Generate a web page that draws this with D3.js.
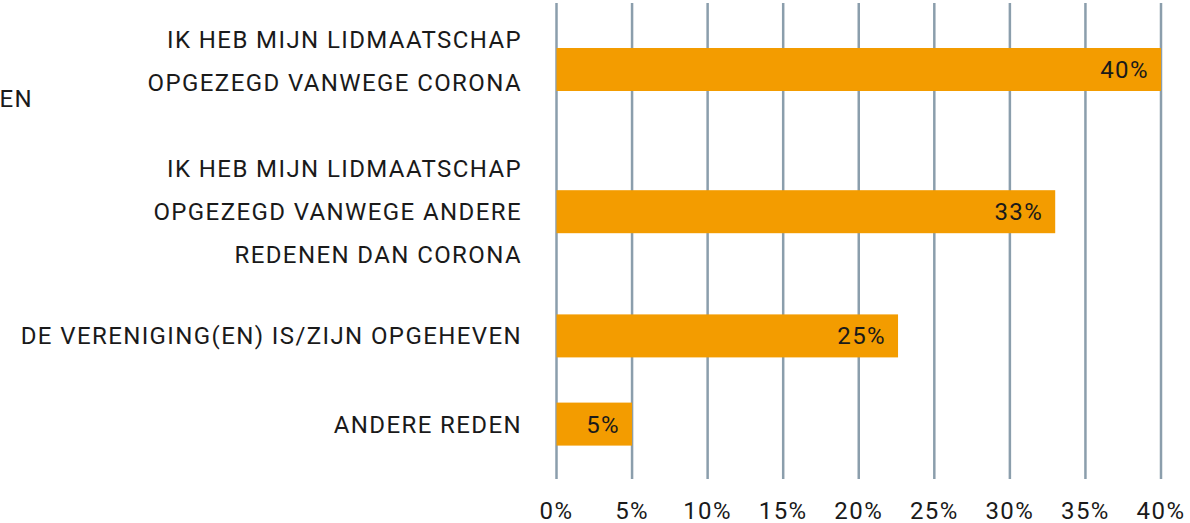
<!DOCTYPE html>
<html>
<head>
<meta charset="utf-8">
<script src="https://cdn.jsdelivr.net/npm/d3@7"></script>
<style>
  html, body { margin: 0; padding: 0; background: #fff; }
  svg { display: block; font-family: Roboto, "Noto Sans", sans-serif; letter-spacing: 1.4px; }
</style>
</head>
<body>
<svg id="chart" width="1190" height="523"></svg>
<script>
// category labels, one entry per line of text
var categories = [
  ['IK HEB MIJN LIDMAATSCHAP', 'OPGEZEGD VANWEGE CORONA'],
  ['IK HEB MIJN LIDMAATSCHAP', 'OPGEZEGD VANWEGE ANDERE', 'REDENEN DAN CORONA'],
  ['DE VERENIGING(EN) IS/ZIJN OPGEHEVEN'],
  ['ANDERE REDEN']
];
// bar lengths as drawn (percent)
var values = [40, 33, 22.6, 5];
// labels printed inside the bars
var valueLabels = ['40%', '33%', '25%', '5%'];
var xTicks = [0, 5, 10, 15, 20, 25, 30, 35, 40];

var svg = d3.select('#chart');
var left = 556.5, right = 1161;
var gridTop = 3, gridBottom = 479;
var lineH = 43;      // text line spacing
var unit = 36;       // px per layout unit
var padUnits = 1.45; // gap between categories
var fontSize = 24;
var textColor = '#1a1a1a';

var x = d3.scaleLinear().domain([0, 40]).range([left, right]);

// vertical layout: each category takes its number of text lines plus padding
var offsets = [];
var acc = 0;
categories.forEach(function(c) {
  offsets.push(acc + (c.length + padUnits) / 2);
  acc += c.length + padUnits;
});
var y = d3.scaleLinear().domain([0, acc]).range([7.4, 7.4 + acc * unit]);

// grid
svg.append('g').attr('class', 'grid')
  .selectAll('line').data(xTicks).enter().append('line')
  .attr('x1', function(d) { return x(d); })
  .attr('x2', function(d) { return x(d); })
  .attr('y1', gridTop)
  .attr('y2', gridBottom)
  .attr('stroke', '#8b9eac')
  .attr('stroke-width', 2.5);

// tick labels
svg.append('g').attr('class', 'ticks')
  .selectAll('text').data(xTicks).enter().append('text')
  .attr('x', function(d) { return x(d); })
  .attr('y', 519)
  .attr('text-anchor', 'middle')
  .attr('font-size', fontSize)
  .attr('fill', textColor)
  .text(function(d) { return d + '%'; });

var barH = 43;

var bars = svg.append('g').attr('class', 'bars')
  .selectAll('g').data(values).enter().append('g');

bars.append('rect')
  .attr('x', x(0))
  .attr('y', function(d, i) { return y(offsets[i]) - barH / 2; })
  .attr('width', function(d) { return x(d) - x(0); })
  .attr('height', barH)
  .attr('fill', '#f39c00');

bars.append('text')
  .attr('x', function(d) { return x(d) - 12; })
  .attr('y', function(d, i) { return y(offsets[i]); })
  .attr('dy', '0.35em')
  .attr('text-anchor', 'end')
  .attr('font-size', fontSize)
  .attr('fill', textColor)
  .text(function(d, i) { return valueLabels[i]; });

// category labels
var cats = svg.append('g').attr('class', 'categories')
  .selectAll('text').data(categories).enter().append('text')
  .attr('text-anchor', 'end')
  .attr('font-size', fontSize)
  .attr('fill', textColor);

cats.selectAll('tspan').data(function(d, i) {
  var nudge = i === 0 ? -8 : 0;
  return d.map(function(line, j) {
    return { line: line, y: y(offsets[i]) + nudge + (j - (d.length - 1) / 2) * lineH };
  });
}).enter().append('tspan')
  .attr('x', 522)
  .attr('y', function(d) { return d.y; })
  .attr('dy', '0.35em')
  .text(function(d) { return d.line; });

// clipped remnant of a label at the far left
svg.append('text')
  .attr('x', 33)
  .attr('y', 99)
  .attr('dy', '0.35em')
  .attr('text-anchor', 'end')
  .attr('font-size', fontSize)
  .attr('fill', textColor)
  .text('EN');
</script>
</body>
</html>
